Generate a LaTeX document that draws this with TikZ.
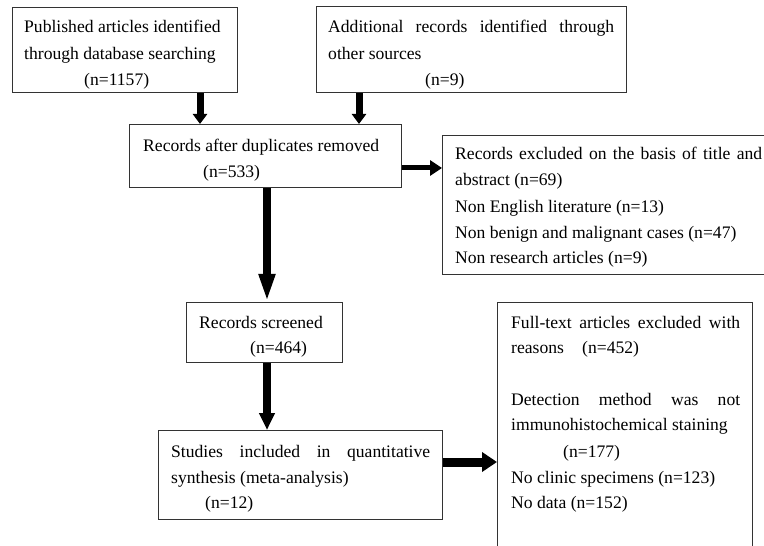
\documentclass[tikz,border=0pt]{standalone}
\usepackage{fontspec}
\setmainfont{Liberation Serif}
\usetikzlibrary{arrows.meta,calc}
\newcommand{\jl}[2]{\makebox[#1][s]{#2}}
\begin{document}
\begin{tikzpicture}[x=1bp,y=-1bp,
  box/.style={draw=black!80,line width=0.9bp,rectangle,inner sep=0pt,anchor=north west},
  txt/.style={inner sep=0pt,anchor=base west,font=\fontsize{17.6bp}{26bp}\selectfont},
  flow/.style={line width=#1},
]
\useasboundingbox (0,0) rectangle (764,546);
% boxes
\node[box,minimum width=225bp,minimum height=85bp] (A) at (12,7) {};
\node[box,minimum width=310bp,minimum height=86bp] (B) at (316,6) {};
\node[box,minimum width=272bp,minimum height=63bp] (C) at (129,124) {};
\node[box,minimum width=400bp,minimum height=139bp] (D) at (442,135) {};
\node[box,minimum width=156bp,minimum height=60bp] (E) at (186,302) {};
\node[box,minimum width=284bp,minimum height=89bp] (F) at (158,430) {};
\node[box,minimum width=255bp,minimum height=300bp] (G) at (497,302) {};
% texts
\node[txt] (a1) at (24,33) {Published articles identified};
\node[txt] (a2) at (24,60) {through database searching};
\node[txt] (a3) at (84,86) {(n=1157)};
\node[txt] (b1) at (328,33) {\jl{286bp}{Additional records identified through}};
\node[txt] (b2) at (328,60) {other sources};
\node[txt] (b3) at (425,86) {(n=9)};
\node[txt] (c1) at (143,152) {Records after duplicates removed};
\node[txt] (c2) at (203,178) {(n=533)};
\node[txt] (d1) at (455,160) {\jl{307bp}{Records excluded on the basis of title and}};
\node[txt] (d2) at (455,186) {abstract (n=69)};
\node[txt] (d3) at (455,213) {Non English literature (n=13)};
\node[txt] (d4) at (455,239) {Non benign and malignant cases (n=47)};
\node[txt] (d5) at (455,264) {Non research articles (n=9)};
\node[txt] (e1) at (199,328) {Records screened};
\node[txt] (e2) at (250,353) {(n=464)};
\node[txt] (f1) at (171,457) {\jl{259bp}{Studies included in quantitative}};
\node[txt] (f2) at (171,483) {synthesis (meta-analysis)};
\node[txt] (f3) at (205,508) {(n=12)};
\node[txt] (g1) at (511,328) {\jl{229bp}{Full-text articles excluded with}};
\node[txt] (g2) at (511,353) {\makebox[71bp][l]{reasons}(n=452)};
\node[txt] (g3) at (511,405) {\jl{229bp}{Detection method was not}};
\node[txt] (g4) at (511,430) {immunohistochemical staining};
\node[txt] (g5) at (563,457) {(n=177)};
\node[txt] (g6) at (511,483) {No clinic specimens (n=123)};
\node[txt] (g7) at (511,508) {No data (n=152)};
% connector guides
\coordinate (xa) at (200,0);
\coordinate (xb) at (359,0);
\coordinate (xm) at (267,0);
\coordinate (y1) at (0,168);
\coordinate (y2) at (0,462);
% arrows
\draw[flow=7bp,-{Triangle[length=10bp,width=14bp]}] (A.south -| xa) -- (C.north -| xa);
\draw[flow=7bp,-{Triangle[length=10bp,width=14bp]}] (B.south -| xb) -- (C.north -| xb);
\draw[flow=8bp,-{Triangle[length=28bp,width=15bp]}] (C.south -| xm) -- (E.north -| xm);
\draw[flow=8bp,-{Triangle[length=17bp,width=15bp]}] (E.south -| xm) -- (F.north -| xm);
\draw[flow=5bp,-{Triangle[length=12bp,width=15bp]}] (C.east |- y1) -- (D.west |- y1);
\draw[flow=9bp,-{Triangle[length=15bp,width=19bp]}] (F.east |- y2) -- (G.west |- y2);
\end{tikzpicture}
\end{document}
